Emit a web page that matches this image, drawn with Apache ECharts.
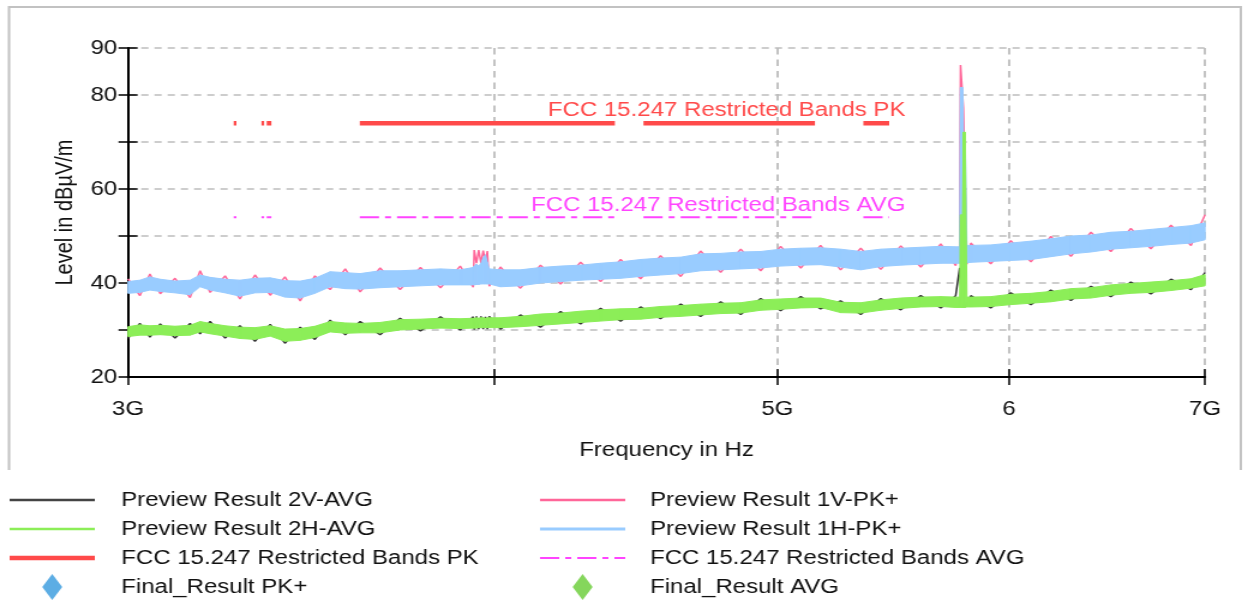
<!DOCTYPE html>
<html>
<head>
<meta charset="utf-8">
<title>Radiated emissions 3 - 7 GHz</title>
<script src="https://cdn.jsdelivr.net/npm/echarts@6/dist/echarts.min.js"></script>
<style>
  html, body { margin: 0; padding: 0; background: #fff; overflow: hidden; }
  /* the reference plot is a horizontally stretched export, so lay it out narrow and stretch it */
  #chart { width: 1039px; height: 602px; transform: scaleX(1.2); transform-origin: 0 0; }
</style>
</head>
<body>
<div id="chart"></div>
<script>
// frequency points (GHz)
const freqGHz = [3.000, 3.028, 3.052, 3.077, 3.113, 3.150, 3.175, 3.200, 3.238, 3.276,
  3.315, 3.355, 3.394, 3.435, 3.475, 3.517, 3.559, 3.601, 3.658, 3.716,
  3.776, 3.836, 3.896, 3.936, 3.939, 3.946, 3.953, 3.960, 3.967, 3.974,
  3.980, 3.986, 4.021, 4.085, 4.150, 4.216, 4.283, 4.351, 4.420, 4.490,
  4.561, 4.634, 4.707, 4.782, 4.858, 4.935, 5.013, 5.093, 5.173, 5.255,
  5.339, 5.424, 5.510, 5.597, 5.686, 5.753, 5.771, 5.775, 5.784, 5.788,
  5.796, 5.804, 5.822, 5.914, 6.008, 6.104, 6.200, 6.299, 6.399, 6.500,
  6.603, 6.708, 6.815, 6.923, 7.000]

// Preview Result 1H-PK+ : upper / lower edge of the noise band (dBµV/m)
const pk1HHigh = [40.3, 40.6, 41.3, 40.8, 40.4, 40.6, 41.7, 41.2, 40.8, 40.6,
  41.0, 41.1, 40.5, 40.4, 41.0, 42.4, 42.2, 42.0, 42.6, 42.6,
  42.8, 43.0, 42.8, 43.3, 43.6, 44.0, 43.6, 44.2, 45.4, 46.0,
  44.4, 43.0, 42.8, 42.8, 43.3, 43.6, 43.8, 44.2, 44.5, 45.0,
  45.3, 45.5, 46.2, 46.3, 46.6, 46.7, 47.2, 47.4, 47.5, 47.2,
  46.7, 47.2, 47.4, 47.6, 47.8, 47.7, 47.7, 81.6, 81.6, 72.0,
  72.0, 48.0, 48.0, 48.1, 48.5, 48.9, 49.4, 50.0, 50.2, 50.8,
  51.0, 51.4, 51.8, 52.2, 52.8]
const pk1HLow = [37.8, 38.0, 38.5, 38.2, 37.9, 37.5, 39.2, 38.5, 37.9, 37.2,
  37.9, 38.0, 37.0, 36.8, 37.8, 39.2, 38.8, 38.7, 39.0, 39.2,
  39.4, 39.6, 39.6, 39.6, 39.6, 39.7, 39.7, 39.8, 39.8, 39.8,
  39.8, 39.8, 39.2, 39.4, 40.0, 40.3, 40.6, 40.8, 41.0, 41.4,
  41.7, 42.0, 42.6, 42.8, 43.0, 43.2, 43.6, 43.8, 43.9, 43.4,
  42.8, 43.5, 43.8, 44.0, 44.2, 44.2, 44.2, 44.2, 44.2, 44.2,
  44.2, 44.3, 44.4, 44.6, 44.8, 45.0, 45.6, 46.2, 46.6, 47.2,
  47.5, 47.8, 48.2, 48.5, 49.2]

// Preview Result 1V-PK+
const pk1V = [40.9, 37.3, 41.9, 37.7, 41.0, 36.9, 42.6, 38.0, 41.5, 36.6,
  41.7, 37.4, 41.3, 36.2, 41.5, 38.6, 43.0, 38.1, 43.2, 38.6,
  43.3, 39.0, 43.6, 39.1, 47.0, 44.2, 47.0, 44.3, 46.9, 44.5,
  46.8, 39.3, 43.4, 38.9, 43.8, 39.8, 44.4, 40.3, 45.0, 40.9,
  45.8, 41.4, 46.8, 42.3, 47.2, 42.6, 47.8, 43.2, 48.0, 42.8,
  47.4, 42.9, 47.9, 43.4, 48.3, 43.7, 47.9, 86.4, 86.4, 77.2,
  77.2, 44.0, 48.5, 44.1, 49.0, 44.5, 49.9, 45.7, 50.8, 46.7,
  51.6, 47.3, 52.3, 48.0, 54.5]

// Preview Result 2H-AVG : upper / lower edge of the band
const avg2HHigh = [30.7, 31.1, 30.9, 31.0, 30.8, 31.0, 31.8, 31.4, 30.9, 30.6,
  30.5, 30.9, 30.2, 30.3, 30.8, 31.8, 31.5, 31.4, 31.6, 32.2,
  32.3, 32.5, 32.4, 32.5, 32.5, 32.6, 32.5, 32.6, 32.6, 32.5,
  32.6, 32.6, 32.6, 32.9, 33.4, 33.6, 34.0, 34.3, 34.5, 34.6,
  35.0, 35.2, 35.5, 35.7, 35.8, 36.4, 36.6, 36.8, 36.8, 35.9,
  35.8, 36.4, 36.8, 37.0, 37.1, 37.0, 37.0, 54.5, 54.5, 72.1,
  72.1, 37.0, 37.0, 37.1, 37.6, 37.8, 38.2, 38.8, 39.0, 39.6,
  39.9, 40.2, 40.5, 40.9, 41.8]
const avg2HLow = [28.6, 28.9, 28.9, 29.0, 28.8, 28.9, 29.6, 29.2, 28.7, 28.2,
  28.0, 28.7, 27.6, 27.8, 28.4, 29.6, 29.3, 29.4, 29.4, 30.0,
  30.2, 30.4, 30.3, 30.4, 30.4, 30.4, 30.5, 30.5, 30.5, 30.5,
  30.5, 30.5, 30.5, 30.7, 31.0, 31.3, 31.6, 31.9, 32.2, 32.3,
  32.7, 32.9, 33.2, 33.5, 33.6, 34.2, 34.4, 34.7, 34.8, 33.7,
  33.6, 34.2, 34.6, 34.9, 35.0, 34.8, 34.8, 34.8, 34.8, 34.8,
  34.8, 34.9, 34.9, 35.0, 35.4, 35.7, 36.0, 36.6, 36.8, 37.4,
  37.8, 38.0, 38.4, 38.9, 39.4]

// Preview Result 2V-AVG
const avg2V = [28.2, 31.4, 28.5, 31.3, 28.3, 31.4, 29.2, 31.8, 28.3, 30.9,
  27.6, 31.2, 27.2, 30.6, 28.0, 32.1, 29.0, 31.8, 29.0, 32.5,
  29.8, 32.8, 30.0, 32.8, 30.1, 32.9, 30.2, 32.9, 30.2, 32.8,
  30.2, 32.9, 30.2, 33.2, 30.6, 33.9, 31.3, 34.6, 31.9, 34.9,
  32.4, 35.5, 32.9, 36.0, 33.3, 36.7, 34.1, 37.1, 34.5, 36.2,
  33.3, 36.7, 34.3, 37.3, 34.7, 37.3, 43.2, 40.2, 35.0, 35.0,
  35.0, 34.6, 37.3, 34.7, 37.9, 35.4, 38.5, 36.3, 39.3, 37.1,
  40.2, 37.7, 40.8, 38.6, 42.2]

// FCC 15.205 restricted bands inside 3 - 7 GHz, and the limits
const restrictedBandsGHz = [[3.26, 3.267], [3.332, 3.339], [3.3458, 3.358], [3.6, 4.4], [4.5, 5.15], [5.35, 5.46]]
const limitPK = 74
const limitAVG = 54
const limitLabelGHz = 5.53

const xTickValues = [3, 4, 5, 6, 7]
const xTickLabels = ['3G', '', '5G', '6', '7G']
const yLabelled = [20, 40, 60, 80, 90]

const FONT = '"Liberation Sans", Arial, sans-serif'
const gridLeft = 106.7
const gridRight = 34.8
const gridTop = 48
const gridBottom = 225
const gridWidth = 1039 - gridLeft - gridRight
const gridHeight = 602 - gridTop - gridBottom

const pts = vals => freqGHz.map((f, i) => [f, vals[i]])

function limitLine(level) {
  const d = []
  restrictedBandsGHz.forEach(([a, b]) => {
    d.push([a, level], [b, level], [b, '-'])
  })
  return d
}

// a noisy trace drawn as a filled band between its lower and upper edge,
// one quad per frequency step
function band(name, color, low, high, z) {
  return {
    name: name,
    type: 'custom',
    coordinateSystem: 'cartesian2d',
    z: z,
    itemStyle: { color: color },
    encode: { x: 0, y: [1, 2] },
    data: freqGHz.slice(0, -1).map((f, i) => [f, low[i], high[i], freqGHz[i + 1], low[i + 1], high[i + 1]]),
    renderItem: (params, api) => {
      const points = [
        api.coord([api.value(0), api.value(1)]),
        api.coord([api.value(0), api.value(2)]),
        api.coord([api.value(3), api.value(5)]),
        api.coord([api.value(3), api.value(4)])
      ]
      return {
        type: 'polygon',
        shape: { points: points },
        style: { fill: color, stroke: color, lineWidth: 1 }
      }
    }
  }
}

function limitLabel(color, dy) {
  return {
    symbol: 'circle',
    symbolSize: 0,
    silent: true,
    label: {
      show: true,
      position: 'left',
      distance: 0,
      offset: [0, dy],
      formatter: '{a}',
      color: color,
      fontSize: 20,
      fontFamily: FONT
    },
    data: []
  }
}

const chart = echarts.init(document.getElementById('chart'))

const pkLabel = limitLabel('#ff4a4a', -13)
pkLabel.data.push({ coord: [limitLabelGHz, limitPK] })
const avgLabel = limitLabel('#ff44ff', -12)
avgLabel.data.push({ coord: [limitLabelGHz, limitAVG] })

const legendText = { fontSize: 20, color: '#111', fontFamily: FONT, lineHeight: 26 }
// legend keys, drawn as paths so no marker sits on the lines
const keyThin = 'path://M0,0H71V2.5H0Z'
const keyMid = 'path://M0,0H71V3H0Z'
const keyThick = 'path://M0,0H71V4.5H0Z'
const keyDashDot = 'path://M0,0H16V2H0Z M21,0H26V2H21Z M31,0H47V2H31Z M52,0H57V2H52Z M62,0H71V2H62Z'
const keyDiamond = 'path://M8,0L16,12.5L8,25L0,12.5Z'

chart.setOption({
  animation: false,
  backgroundColor: '#fff',
  graphic: [{
    type: 'polyline',
    shape: { points: [[7.5, 470], [7.5, 7], [1034, 7], [1034, 470]] },
    style: { stroke: '#c2c2c2', lineWidth: 2, fill: null },
    silent: true
  }],
  grid: { left: gridLeft, right: gridRight, top: gridTop, bottom: gridBottom },
  legend: [{
    orient: 'vertical',
    left: 8,
    top: 487,
    padding: 0,
    itemWidth: 71,
    itemHeight: 26,
    itemGap: 3,
    textStyle: Object.assign({ padding: [0, 0, 0, 17] }, legendText),
    data: [
      { name: 'Preview Result 2V-AVG', icon: keyThin },
      { name: 'Preview Result 2H-AVG', icon: keyThin },
      { name: 'FCC 15.247 Restricted Bands PK', icon: keyThick },
      { name: 'Final_Result PK+', icon: keyDiamond }
    ]
  }, {
    orient: 'vertical',
    left: 450,
    top: 487,
    padding: 0,
    itemWidth: 71,
    itemHeight: 26,
    itemGap: 3,
    textStyle: Object.assign({ padding: [0, 0, 0, 15.7] }, legendText),
    data: [
      { name: 'Preview Result 1V-PK+', icon: keyThin },
      { name: 'Preview Result 1H-PK+', icon: keyMid },
      { name: 'FCC 15.247 Restricted Bands AVG', icon: keyDashDot },
      { name: 'Final_Result AVG', icon: keyDiamond }
    ]
  }],
  xAxis: [{
    type: 'log',
    min: 3,
    max: 7,
    name: 'Frequency in Hz',
    nameLocation: 'middle',
    nameGap: 63,
    nameTextStyle: { fontSize: 20, color: '#111', fontFamily: FONT },
    axisLine: { lineStyle: { color: '#000', width: 2 } },
    axisTick: { length: 8, customValues: xTickValues, lineStyle: { color: '#000', width: 1.5 } },
    axisLabel: {
      customValues: xTickValues,
      margin: 22,
      fontSize: 20,
      color: '#111',
      fontFamily: FONT,
      formatter: v => {
        const i = xTickValues.findIndex(t => Math.abs(t - v) < 1e-6)
        return i < 0 ? '' : xTickLabels[i]
      }
    },
    splitLine: { show: true, lineStyle: { color: '#bdbdbd', width: 1.8, type: [6.5, 5] } }
  }, {
    // second copy only for the ticks that point into the plot
    type: 'log',
    min: 3,
    max: 7,
    position: 'top',
    offset: -gridHeight,
    axisLine: { show: false },
    axisTick: { length: 8, customValues: xTickValues, lineStyle: { color: '#000', width: 1.5 } },
    axisLabel: { show: false },
    splitLine: { show: false }
  }],
  yAxis: [{
    type: 'value',
    min: 20,
    max: 90,
    interval: 10,
    name: 'Level in dBµV/m',
    nameLocation: 'middle',
    nameGap: 41,
    nameTextStyle: { fontSize: 20, color: '#111', fontFamily: FONT },
    axisLine: { show: true, lineStyle: { color: '#000', width: 2 } },
    axisTick: { show: true, length: 8, lineStyle: { color: '#000', width: 1.5 } },
    axisLabel: {
      margin: 9,
      fontSize: 20,
      color: '#111',
      fontFamily: FONT,
      formatter: v => (yLabelled.indexOf(v) >= 0 ? String(v) : '')
    },
    splitLine: { show: true, lineStyle: { color: '#bdbdbd', width: 1.5, type: [6, 5] } }
  }, {
    type: 'value',
    min: 20,
    max: 90,
    interval: 10,
    position: 'right',
    offset: -gridWidth,
    axisLine: { show: false },
    axisTick: { show: true, length: 8, lineStyle: { color: '#000', width: 1.5 } },
    axisLabel: { show: false },
    splitLine: { show: false }
  }],
  series: [
    {
      name: 'FCC 15.247 Restricted Bands PK',
      type: 'line',
      z: 3,
      symbol: 'none',
      lineStyle: { color: '#ff4a4a', width: 4.5 },
      itemStyle: { color: '#ff4a4a' },
      markPoint: pkLabel,
      data: limitLine(limitPK)
    },
    {
      name: 'FCC 15.247 Restricted Bands AVG',
      type: 'line',
      z: 3,
      symbol: 'none',
      lineStyle: { color: '#ff44ff', width: 2, type: [16, 5, 5, 5] },
      itemStyle: { color: '#ff44ff' },
      markPoint: avgLabel,
      data: limitLine(limitAVG)
    },
    {
      name: 'Preview Result 1V-PK+',
      type: 'line',
      z: 3,
      symbol: 'none',
      lineStyle: { color: '#ff6699', width: 1.5 },
      itemStyle: { color: '#ff6699' },
      data: pts(pk1V)
    },
    band('Preview Result 1H-PK+', '#99ccff', pk1HLow, pk1HHigh, 4),
    {
      name: 'Preview Result 2V-AVG',
      type: 'line',
      z: 5,
      symbol: 'none',
      lineStyle: { color: '#333', width: 1.5 },
      itemStyle: { color: '#444' },
      data: pts(avg2V)
    },
    band('Preview Result 2H-AVG', '#8cee58', avg2HLow, avg2HHigh, 6),
    {
      name: 'Final_Result PK+',
      type: 'scatter',
      symbol: 'diamond',
      itemStyle: { color: '#3399dd' },
      data: []
    },
    {
      name: 'Final_Result AVG',
      type: 'scatter',
      symbol: 'diamond',
      itemStyle: { color: '#66cc33' },
      data: []
    }
  ]
})
</script>
</body>
</html>
